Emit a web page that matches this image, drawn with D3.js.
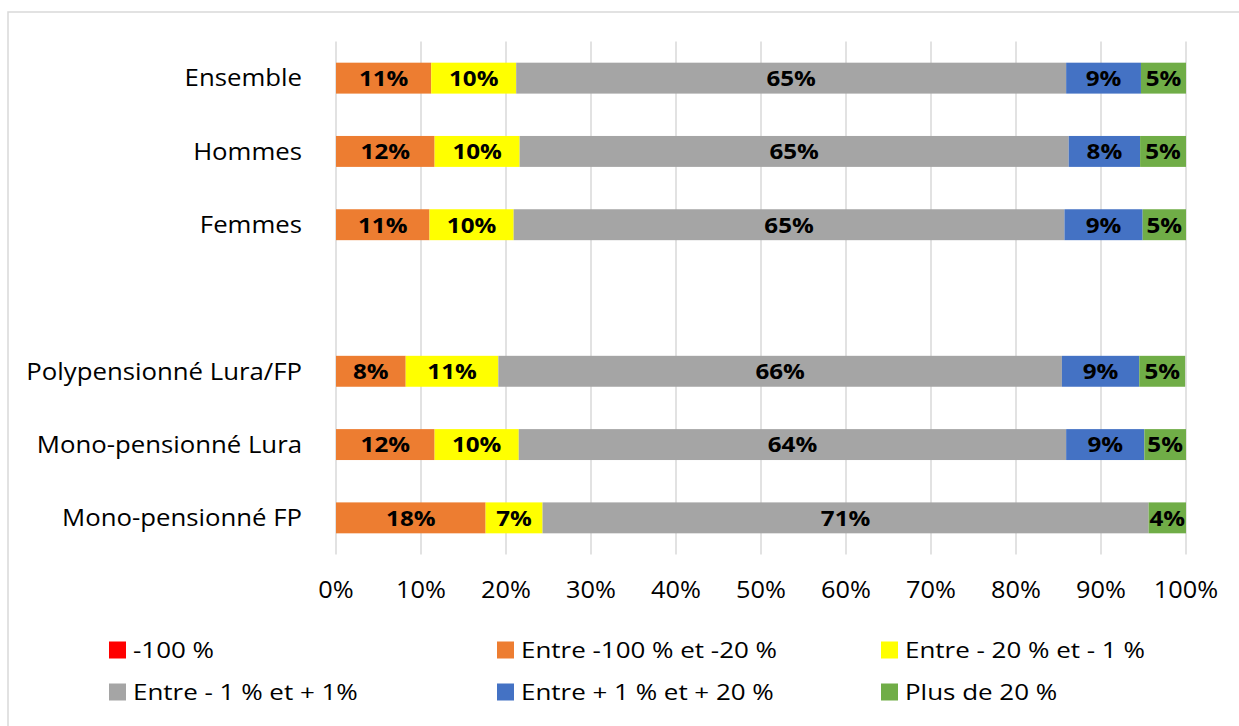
<!DOCTYPE html>
<html>
<head>
  <meta charset="utf-8">
  <script src="https://d3js.org/d3.v7.min.js"></script>
  <style>
    html, body { margin: 0; padding: 0; background: #fff; overflow: hidden; }
    svg { display: block; font-family: "Open Sans", sans-serif; }
  </style>
</head>
<body>
<script>
"use strict";

// categories (the empty one is the blank slot between the two groups)
const categories = ["Ensemble", "Hommes", "Femmes", "", "Polypensionné Lura/FP", "Mono-pensionné Lura", "Mono-pensionné FP"];

// share of each category, in %
const moins100   = [0, 0, 0, null, 0, 0, 0];
const entre100_20 = [11.2, 11.6, 11.0, null, 8.2, 11.6, 17.6];
const entre20_1  = [10.0, 10.0, 9.9, null, 10.9, 9.9, 6.7];
const entre1_1   = [64.7, 64.6, 64.8, null, 66.3, 64.4, 71.3];
const entre1_20  = [8.8, 8.4, 9.2, null, 9.1, 9.2, 0];
const plus20     = [5.3, 5.4, 5.1, null, 5.4, 4.9, 4.4];

const seriesNames = ["-100 %", "Entre -100 % et -20 %", "Entre - 20 % et - 1 %",
                     "Entre - 1 % et + 1%", "Entre + 1 % et + 20 %", "Plus de 20 %"];
const seriesColors = ["#ff0000", "#ed7d31", "#ffff00", "#a5a5a5", "#4472c4", "#70ad47"];
const tickValues = [0, 10, 20, 30, 40, 50, 60, 70, 80, 90, 100];

const WIDTH = 1239, HEIGHT = 726;
const seriesValues = [moins100, entre100_20, entre20_1, entre1_1, entre1_20, plus20];

// text in the original is a bit wider than Open Sans, so stretch it horizontally
const place = (px, py, sx) => `translate(${px},${py}) scale(${sx},1)`;

const svg = d3.select("body").append("svg")
  .attr("width", WIDTH)
  .attr("height", HEIGHT);

// chart frame
svg.append("rect")
  .attr("x", 8).attr("y", 12)
  .attr("width", WIDTH).attr("height", HEIGHT)
  .attr("fill", "none")
  .attr("stroke", "#d9d9d9")
  .attr("stroke-width", 1.5);

const x = d3.scaleLinear().domain([0, 100]).range([336, 1186]);
const y = d3.scaleBand()
  .domain(d3.range(categories.length))
  .range([41.5, 554.5])
  .paddingInner(0.578)
  .paddingOuter(0.289);

// gridlines
svg.append("g")
  .selectAll("line")
  .data(tickValues)
  .join("line")
  .attr("x1", d => x(d)).attr("x2", d => x(d))
  .attr("y1", 41.5).attr("y2", 554.5)
  .attr("stroke", "#d9d9d9")
  .attr("stroke-width", 1.5);

// x tick labels
svg.append("g")
  .selectAll("text")
  .data(tickValues)
  .join("text")
  .attr("transform", d => place(x(d), 598, 1.1))
  .attr("text-anchor", "middle")
  .attr("font-size", 23)
  .attr("fill", "#000")
  .text(d => d + "%");

// category labels
svg.append("g")
  .selectAll("text")
  .data(categories)
  .join("text")
  .attr("transform", (d, i) => place(302, y(i) + y.bandwidth() / 2, 1.12))
  .attr("dy", "0.36em")
  .attr("text-anchor", "end")
  .attr("font-size", 23)
  .attr("fill", "#000")
  .text(d => d);

// stacked segments
const rows = categories.map((c, i) => {
  let acc = 0;
  return seriesValues.map((s, k) => {
    const v = s[i] || 0;
    const seg = { i, k, x0: acc, x1: acc + v, v };
    acc += v;
    return seg;
  });
}).flat().filter(d => d.v > 0);

svg.append("g")
  .selectAll("rect")
  .data(rows)
  .join("rect")
  .attr("x", d => x(d.x0))
  .attr("width", d => x(d.x1) - x(d.x0))
  .attr("y", d => y(d.i))
  .attr("height", y.bandwidth())
  .attr("fill", d => seriesColors[d.k]);

svg.append("g")
  .selectAll("text")
  .data(rows)
  .join("text")
  .attr("transform", d => place((x(d.x0) + x(d.x1)) / 2, y(d.i) + y.bandwidth() / 2, 1.1))
  .attr("dy", "0.36em")
  .attr("text-anchor", "middle")
  .attr("font-size", 22)
  .attr("font-weight", "bold")
  .attr("fill", "#000")
  .text(d => Math.round(d.v) + "%");

// legend
const legendCols = [109, 497, 881];
const legendRows = [650, 692];
const legend = svg.append("g")
  .selectAll("g")
  .data(seriesNames)
  .join("g")
  .attr("transform", (d, i) => `translate(${legendCols[i % 3]},${legendRows[Math.floor(i / 3)]})`);

legend.append("rect")
  .attr("x", 0).attr("y", -8.5)
  .attr("width", 17).attr("height", 17)
  .attr("fill", (d, i) => seriesColors[i]);

legend.append("text")
  .attr("transform", place(24, 0, 1.18))
  .attr("dy", "0.36em")
  .attr("font-size", 22)
  .attr("fill", "#000")
  .text(d => d);
</script>
</body>
</html>
